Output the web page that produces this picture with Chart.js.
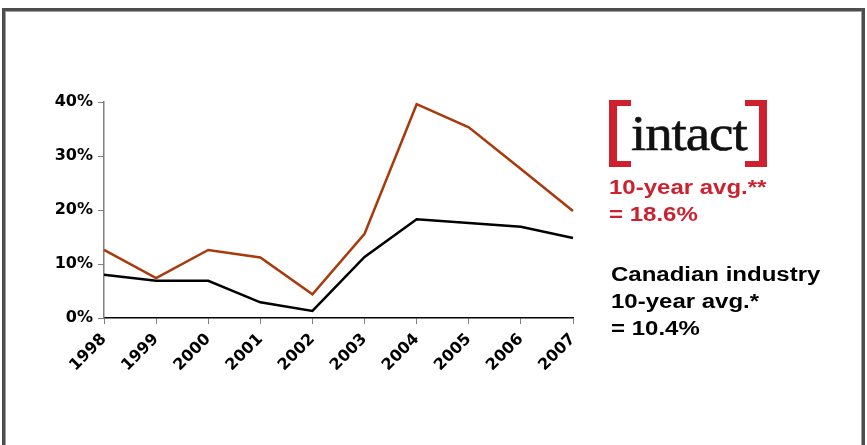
<!DOCTYPE html>
<html>
<head>
<meta charset="utf-8">
<script src="https://cdn.jsdelivr.net/npm/chart.js@4/dist/chart.umd.min.js"></script>
<style>
  html, body { margin: 0; padding: 0; background: #fff; }
  body { width: 867px; height: 445px; position: relative; overflow: hidden; font-family: "Liberation Sans", Arial, sans-serif; }
  .frame { position: absolute; left: 2px; top: 8px; width: 857px; height: 460px; border: 3px solid #4d4d4d; box-shadow: inset 0 0 0 1px #a0a0a0; }
  #wrap { position: absolute; left: 0; top: 0; width: 867px; height: 445px; }
  .logo { position: absolute; left: 609px; top: 100px; width: 158px; height: 67px; background: #fff; }
  .br { position: absolute; top: 0; width: 14px; height: 55px; border-top: 6px solid #d0202e; border-bottom: 6px solid #d0202e; }
  .br.l { left: 0; border-left: 8px solid #d0202e; }
  .br.r { right: 0; border-right: 8px solid #d0202e; }
  .logo span { position: absolute; left: 22px; top: 3px; font-family: "Liberation Serif", "DejaVu Serif", serif; font-size: 50px; color: #111; letter-spacing: -1px; line-height: 60px; transform: scaleX(1.1); transform-origin: left top; -webkit-text-stroke: 0.6px #111; }
  .note { position: absolute; font-weight: bold; font-size: 20px; line-height: 27px; transform: scaleX(1.2); transform-origin: left top; white-space: nowrap; }
  .red { color: #cc2230; left: 609px; top: 174px; }
  .blk { color: #000; left: 611px; top: 261px; }
</style>
</head>
<body>
<div class="frame"></div>
<div id="wrap"><canvas id="roe" width="867" height="445"></canvas></div>
<div class="logo"><div class="br l"></div><div class="br r"></div><span>intact</span></div>
<div class="note red">10-year avg.**<br>= 18.6%</div>
<div class="note blk">Canadian industry<br>10-year avg.*<br>= 10.4%</div>
<script>
const years = ['1998', '1999', '2000', '2001', '2002', '2003', '2004', '2005', '2006', '2007']
const intactRoe = [12.6, 7.4, 12.6, 11.2, 4.4, 15.6, 39.6, 35.3, 27.6, 19.8]
const industryRoe = [8.0, 6.9, 6.9, 2.9, 1.3, 11.3, 18.3, 17.6, 16.9, 14.8]
const yTicks = [0, 10, 20, 30, 40]

const ctx = document.getElementById('roe').getContext('2d')
const tickFont = { family: 'DejaVu Sans, sans-serif', size: 16, weight: 'bold' }

new Chart(ctx, {
    type: 'line',
    data: {
        labels: years,
        datasets: [
            { label: 'Intact', data: intactRoe, borderColor: '#a83a0c', borderWidth: 2.5, pointRadius: 0, tension: 0, fill: false },
            { label: 'Canadian industry', data: industryRoe, borderColor: '#000000', borderWidth: 2.5, pointRadius: 0, tension: 0, fill: false }
        ]
    },
    options: {
        responsive: false,
        animation: false,
        devicePixelRatio: 1,
        layout: { padding: { left: 0, right: 294, top: 102, bottom: 60 } },
        plugins: { legend: { display: false }, tooltip: { enabled: false } },
        scales: {
            x: {
                offset: false,
                grid: { drawOnChartArea: false, drawTicks: true, tickLength: 6, color: '#808080' },
                border: { color: '#000', width: 1.5 },
                ticks: { color: '#000', minRotation: 45, maxRotation: 45, padding: 6, font: tickFont },
                afterFit: s => { s.height = 67 }
            },
            y: {
                min: 0, max: 40,
                afterBuildTicks: s => { s.ticks = yTicks.map(v => ({ value: v })) },
                grid: { drawOnChartArea: false, drawTicks: true, tickLength: 6, color: '#808080' },
                border: { color: '#808080', width: 1.5 },
                ticks: { color: '#000', padding: 5, callback: v => v + '%', font: tickFont },
                afterFit: s => { s.width = 104 }
            }
        }
    }
})
</script>
</body>
</html>
